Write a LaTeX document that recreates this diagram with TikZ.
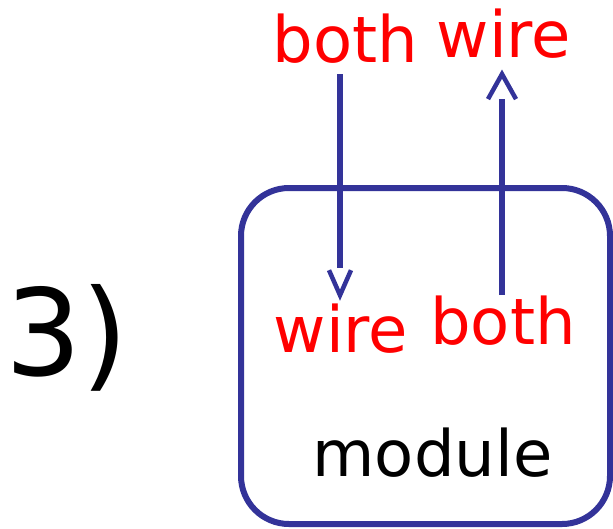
\documentclass[tikz,border=0pt]{standalone}
\usepackage{fontspec}
\setmainfont{DejaVu Sans}
\usepackage{tikz}
\usetikzlibrary{positioning,arrows.meta,calc}
\definecolor{wireblue}{RGB}{51,51,153}
\definecolor{sigred}{RGB}{255,0,0}
\tikzset{
  lbl/.style={text=#1, anchor=base, inner sep=0pt, font=\fontsize{64}{70}\selectfont},
  lbl/.default={sigred},
  modbox/.style={draw=wireblue, line width=6pt, rounded corners=48pt, minimum width=369pt, minimum height=336pt, inner sep=0pt},
  stem/.style={line width=6pt, draw=wireblue},
  vtip/.style={line width=4.5pt, draw=wireblue, miter limit=10}
}
\begin{document}
\begin{tikzpicture}[x=1pt, y=-1pt]
  \useasboundingbox (0,0) rectangle (613,528);
  \node[modbox] (mod) at (425.5,356) {};
  \node[lbl=black, font=\fontsize{120}{130}\selectfont] (num) at (67,375) {3)};
  \node[lbl=black] (modname) at (432.5,476) {module};
  \node[lbl] (topboth) at (345.5,62) {both};
  \node[lbl] (topwire) at (504,57) {wire};
  \node[lbl] (inwire) at (341,352) {wire};
  \node[lbl] (inboth) at (503,344) {both};
  % wire goes in
  \coordinate (downtip) at ($(inwire.north)+(-1,-8)$);
  \draw[stem, shorten <=11pt, shorten >=27pt] (topboth.south -| downtip) -- (downtip);
  \draw[vtip] ($(downtip)+(-11,-25)$) -- (downtip) -- ++(11,-25);
  % wire goes out
  \coordinate (uptip) at ($(inboth.north |- topwire.south)+(-1,16)$);
  \draw[stem, shorten >=25pt] (inboth.north -| uptip) -- (uptip);
  \draw[vtip] ($(uptip)+(-14,25)$) -- (uptip) -- ++(14,25);
\end{tikzpicture}
\end{document}
